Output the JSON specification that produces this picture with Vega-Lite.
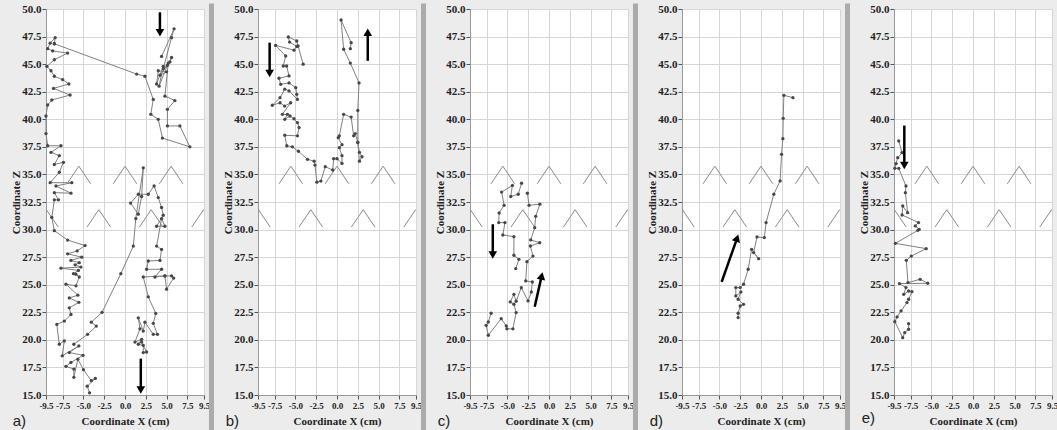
{
"$schema":"https://vega.github.io/schema/vega-lite/v6.json",
"background":"#ececec",
"padding":{"left":10,"top":0,"right":0,"bottom":0},
"spacing":54,
"bounds":"flush",
"datasets":{
"sep":[{"x":10.4,"z":50.5,"z2":11.6}],
"sepe":[{"x":0,"z":50.5,"z2":11.6}],
"chev":[
{"c":"u1","i":1,"x":-6.97,"z":34.15},{"c":"u1","i":2,"x":-5.55,"z":35.75},{"c":"u1","i":3,"x":-4.13,"z":34.15},
{"c":"u2","i":1,"x":-1.42,"z":34.15},{"c":"u2","i":2,"x":0,"z":35.75},{"c":"u2","i":3,"x":1.42,"z":34.15},
{"c":"u3","i":1,"x":4.13,"z":34.15},{"c":"u3","i":2,"x":5.55,"z":35.75},{"c":"u3","i":3,"x":6.97,"z":34.15},
{"c":"l1","i":1,"x":-10.87,"z":30.23},{"c":"l1","i":2,"x":-9.45,"z":31.8},{"c":"l1","i":3,"x":-8.03,"z":30.23},
{"c":"l2","i":1,"x":-4.57,"z":30.23},{"c":"l2","i":2,"x":-3.15,"z":31.8},{"c":"l2","i":3,"x":-1.73,"z":30.23},
{"c":"l3","i":1,"x":1.73,"z":30.23},{"c":"l3","i":2,"x":3.15,"z":31.8},{"c":"l3","i":3,"x":4.57,"z":30.23},
{"c":"l4","i":1,"x":8.03,"z":30.23},{"c":"l4","i":2,"x":9.45,"z":31.8},{"c":"l4","i":3,"x":10.87,"z":30.23}
],
"arrows":[
{"p":"a","x":4.2,"z":49.7,"x2":4.2,"z2":47.85},
{"p":"a","x":1.9,"z":18.3,"x2":1.9,"z2":15.45},
{"p":"b","x":-8.1,"z":46.95,"x2":-8.1,"z2":44.15},
{"p":"b","x":3.7,"z":45.3,"x2":3.7,"z2":47.9},
{"p":"c","x":-6.76,"z":30.48,"x2":-6.76,"z2":27.7},
{"p":"c","x":-1.72,"z":23.0,"x2":-0.88,"z2":25.8},
{"p":"d","x":-4.73,"z":25.25,"x2":-2.87,"z2":29.23},
{"p":"e","x":-8.26,"z":39.43,"x2":-8.26,"z2":35.8}
],
"heads":[
{"p":"a","dir":"down","x":4.2,"z":47.85},
{"p":"a","dir":"down","x":1.9,"z":15.45},
{"p":"b","dir":"down","x":-8.1,"z":44.15},
{"p":"b","dir":"up","x":3.7,"z":47.9},
{"p":"c","dir":"down","x":-6.76,"z":27.7},
{"p":"c","dir":"tilt","x":-0.88,"z":25.8},
{"p":"d","dir":"tilt","x":-2.87,"z":29.23},
{"p":"e","dir":"down","x":-8.26,"z":35.8}
],
"ta":[
{"s":1,"i":1,"x":4.4,"z":45.7},{"s":1,"i":2,"x":5.9,"z":48.2},{"s":1,"i":3,"x":5.6,"z":47.4},{"s":1,"i":4,"x":4.6,"z":44.6},{"s":1,"i":5,"x":5.1,"z":44.9},{"s":1,"i":6,"x":5.6,"z":45.6},{"s":1,"i":7,"x":5.4,"z":45.2},{"s":1,"i":8,"x":4.2,"z":44.0},{"s":1,"i":9,"x":5.0,"z":44.3},{"s":1,"i":10,"x":4.0,"z":44.4},{"s":1,"i":11,"x":3.8,"z":43.2},{"s":1,"i":12,"x":4.6,"z":44.8},{"s":1,"i":13,"x":4.1,"z":43.0},{"s":1,"i":14,"x":5.2,"z":45.1},{"s":1,"i":15,"x":4.8,"z":42.1},{"s":1,"i":16,"x":6.0,"z":41.7},{"s":1,"i":17,"x":5.1,"z":40.9},{"s":1,"i":18,"x":5.1,"z":39.4},{"s":1,"i":19,"x":6.6,"z":39.4},{"s":1,"i":20,"x":7.8,"z":37.5},{"s":1,"i":21,"x":4.5,"z":38.3},{"s":1,"i":22,"x":4.0,"z":40.0},{"s":1,"i":23,"x":3.1,"z":40.45},{"s":1,"i":24,"x":3.4,"z":41.8},{"s":1,"i":25,"x":2.4,"z":43.9},{"s":1,"i":26,"x":1.4,"z":44.1},{"s":1,"i":27,"x":-8.5,"z":46.85},
{"s":2,"i":1,"x":-8.5,"z":46.85},{"s":2,"i":2,"x":-8.4,"z":47.4},{"s":2,"i":3,"x":-9.0,"z":46.9},{"s":2,"i":4,"x":-9.3,"z":46.4},{"s":2,"i":5,"x":-8.7,"z":46.2},{"s":2,"i":6,"x":-6.9,"z":46.0},{"s":2,"i":7,"x":-8.5,"z":45.4},{"s":2,"i":8,"x":-9.4,"z":44.8},{"s":2,"i":9,"x":-8.9,"z":44.4},{"s":2,"i":10,"x":-8.5,"z":43.9},{"s":2,"i":11,"x":-7.5,"z":43.6},{"s":2,"i":12,"x":-6.75,"z":43.2},{"s":2,"i":13,"x":-8.6,"z":42.8},{"s":2,"i":14,"x":-6.6,"z":42.2},{"s":2,"i":15,"x":-8.8,"z":41.75},{"s":2,"i":16,"x":-9.3,"z":41.3},{"s":2,"i":17,"x":-9.5,"z":40.3},{"s":2,"i":18,"x":-9.5,"z":38.7},{"s":2,"i":19,"x":-9.3,"z":37.6},{"s":2,"i":20,"x":-7.7,"z":37.6},{"s":2,"i":21,"x":-8.9,"z":37.0},{"s":2,"i":22,"x":-7.9,"z":36.7},{"s":2,"i":23,"x":-8.5,"z":35.9},{"s":2,"i":24,"x":-7.4,"z":36.1},{"s":2,"i":25,"x":-7.9,"z":35.2},{"s":2,"i":26,"x":-9.0,"z":34.25},{"s":2,"i":27,"x":-6.4,"z":34.25},{"s":2,"i":28,"x":-8.3,"z":33.95},{"s":2,"i":29,"x":-6.5,"z":33.3},{"s":2,"i":30,"x":-8.5,"z":33.35},{"s":2,"i":31,"x":-8.0,"z":32.7},{"s":2,"i":32,"x":-8.5,"z":32.7},{"s":2,"i":33,"x":-8.8,"z":31.1},{"s":2,"i":34,"x":-8.5,"z":29.9},{"s":2,"i":35,"x":-6.9,"z":29.05},{"s":2,"i":36,"x":-4.8,"z":28.55},{"s":2,"i":37,"x":-5.75,"z":28.06},{"s":2,"i":38,"x":-6.9,"z":27.8},{"s":2,"i":39,"x":-5.2,"z":27.5},{"s":2,"i":40,"x":-6.5,"z":27.2},{"s":2,"i":41,"x":-5.5,"z":27.0},{"s":2,"i":42,"x":-6.0,"z":26.8},{"s":2,"i":43,"x":-5.3,"z":26.6},{"s":2,"i":44,"x":-7.7,"z":26.5},{"s":2,"i":45,"x":-5.6,"z":26.3},{"s":2,"i":46,"x":-6.2,"z":26.0},{"s":2,"i":47,"x":-5.9,"z":25.95},{"s":2,"i":48,"x":-5.5,"z":25.7},{"s":2,"i":49,"x":-5.9,"z":24.9},{"s":2,"i":50,"x":-7.1,"z":25.05},{"s":2,"i":51,"x":-5.67,"z":24.05},{"s":2,"i":52,"x":-6.7,"z":23.8},{"s":2,"i":53,"x":-5.55,"z":23.4},{"s":2,"i":54,"x":-6.7,"z":22.9},{"s":2,"i":55,"x":-6.5,"z":22.3},{"s":2,"i":56,"x":-7.3,"z":21.7},{"s":2,"i":57,"x":-8.2,"z":21.4},{"s":2,"i":58,"x":-7.9,"z":19.6},{"s":2,"i":59,"x":-7.3,"z":19.9},{"s":2,"i":60,"x":-7.55,"z":18.55},{"s":2,"i":61,"x":-5.55,"z":19.45},{"s":2,"i":62,"x":-6.7,"z":18.85},{"s":2,"i":63,"x":-5.05,"z":18.6},{"s":2,"i":64,"x":-6.5,"z":17.95},{"s":2,"i":65,"x":-7.1,"z":17.6},{"s":2,"i":66,"x":-6.15,"z":17.35},{"s":2,"i":67,"x":-6.15,"z":16.6},{"s":2,"i":68,"x":-5.67,"z":18.25},{"s":2,"i":69,"x":-5.0,"z":17.3},{"s":2,"i":70,"x":-4.05,"z":16.3},{"s":2,"i":71,"x":-3.57,"z":16.5},{"s":2,"i":72,"x":-4.54,"z":15.8},{"s":2,"i":73,"x":-4.26,"z":15.2},
{"s":3,"i":1,"x":-6.15,"z":19.6},{"s":3,"i":2,"x":-4.5,"z":20.5},{"s":3,"i":3,"x":-3.45,"z":21.25},{"s":3,"i":4,"x":-4.05,"z":21.6},{"s":3,"i":5,"x":-2.76,"z":22.5},{"s":3,"i":6,"x":-0.5,"z":26.0},{"s":3,"i":7,"x":1.0,"z":28.5},{"s":3,"i":8,"x":1.3,"z":31.0},{"s":3,"i":9,"x":2.2,"z":35.6},{"s":3,"i":10,"x":2.0,"z":33.0},{"s":3,"i":11,"x":1.6,"z":31.4},{"s":3,"i":12,"x":0.67,"z":32.4},{"s":3,"i":13,"x":1.6,"z":33.2},{"s":3,"i":14,"x":2.8,"z":33.2},{"s":3,"i":15,"x":3.5,"z":33.95},{"s":3,"i":16,"x":4.0,"z":32.9},{"s":3,"i":17,"x":4.4,"z":32.0},{"s":3,"i":18,"x":4.6,"z":31.3},{"s":3,"i":19,"x":3.8,"z":30.3},{"s":3,"i":20,"x":4.8,"z":30.3},{"s":3,"i":21,"x":4.4,"z":31.0},{"s":3,"i":22,"x":3.8,"z":28.5},{"s":3,"i":23,"x":4.4,"z":28.2},{"s":3,"i":24,"x":4.2,"z":27.2},{"s":3,"i":25,"x":2.8,"z":27.15},{"s":3,"i":26,"x":2.6,"z":26.4},{"s":3,"i":27,"x":4.4,"z":26.4},{"s":3,"i":28,"x":3.6,"z":25.7},{"s":3,"i":29,"x":4.8,"z":25.8},{"s":3,"i":30,"x":5.6,"z":25.8},{"s":3,"i":31,"x":5.85,"z":25.6},{"s":3,"i":32,"x":5.0,"z":24.6},{"s":3,"i":33,"x":4.8,"z":25.8},{"s":3,"i":34,"x":2.2,"z":25.7},{"s":3,"i":35,"x":2.8,"z":23.9},{"s":3,"i":36,"x":3.7,"z":22.4},{"s":3,"i":37,"x":3.4,"z":21.5},{"s":3,"i":38,"x":3.9,"z":20.5},{"s":3,"i":39,"x":3.4,"z":20.5},{"s":3,"i":40,"x":2.4,"z":21.6},{"s":3,"i":41,"x":2.2,"z":20.8},{"s":3,"i":42,"x":1.6,"z":22.0},{"s":3,"i":43,"x":1.8,"z":21.0},{"s":3,"i":44,"x":1.2,"z":19.8},{"s":3,"i":45,"x":2.0,"z":20.05},{"s":3,"i":46,"x":1.6,"z":19.6},{"s":3,"i":47,"x":2.2,"z":19.5},{"s":3,"i":48,"x":2.2,"z":18.85},{"s":3,"i":49,"x":2.6,"z":18.9},{"s":3,"i":50,"x":2.0,"z":19.8}
],
"tb":[
{"s":1,"i":1,"x":-4.07,"z":45.0},{"s":1,"i":2,"x":-4.68,"z":46.65},{"s":1,"i":3,"x":-4.84,"z":47.1},{"s":1,"i":4,"x":-5.85,"z":47.46},{"s":1,"i":5,"x":-5.7,"z":47.0},{"s":1,"i":6,"x":-4.84,"z":46.6},{"s":1,"i":7,"x":-5.17,"z":46.27},{"s":1,"i":8,"x":-7.38,"z":46.7},{"s":1,"i":9,"x":-6.17,"z":45.74},{"s":1,"i":10,"x":-6.46,"z":44.83},{"s":1,"i":11,"x":-6.06,"z":44.83},{"s":1,"i":12,"x":-5.77,"z":43.93},{"s":1,"i":13,"x":-6.98,"z":43.72},{"s":1,"i":14,"x":-6.77,"z":43.17},{"s":1,"i":15,"x":-5.77,"z":43.3},{"s":1,"i":16,"x":-4.96,"z":42.87},{"s":1,"i":17,"x":-4.84,"z":42.26},{"s":1,"i":18,"x":-4.76,"z":41.8},{"s":1,"i":19,"x":-5.77,"z":42.57},{"s":1,"i":20,"x":-6.28,"z":42.73},{"s":1,"i":21,"x":-6.85,"z":41.96},{"s":1,"i":22,"x":-7.78,"z":41.27},{"s":1,"i":23,"x":-6.85,"z":41.5},{"s":1,"i":24,"x":-6.3,"z":41.2},{"s":1,"i":25,"x":-5.57,"z":41.5},{"s":1,"i":26,"x":-6.57,"z":40.45},{"s":1,"i":27,"x":-5.96,"z":40.45},{"s":1,"i":28,"x":-6.28,"z":40.0},{"s":1,"i":29,"x":-5.65,"z":40.3},{"s":1,"i":30,"x":-5.17,"z":40.05},{"s":1,"i":31,"x":-4.76,"z":39.7},{"s":1,"i":32,"x":-4.56,"z":39.25},{"s":1,"i":33,"x":-4.76,"z":38.5},{"s":1,"i":34,"x":-6.28,"z":38.55},{"s":1,"i":35,"x":-6.04,"z":37.6},{"s":1,"i":36,"x":-5.37,"z":37.5},{"s":1,"i":37,"x":-4.64,"z":37.1},{"s":1,"i":38,"x":-3.55,"z":36.37},{"s":1,"i":39,"x":-2.75,"z":36.2},{"s":1,"i":40,"x":-2.65,"z":35.85},{"s":1,"i":41,"x":-2.42,"z":34.3},{"s":1,"i":42,"x":-1.94,"z":34.4},{"s":1,"i":43,"x":-1.41,"z":35.7},{"s":1,"i":44,"x":-0.52,"z":35.4},{"s":1,"i":45,"x":-0.4,"z":36.43},{"s":1,"i":46,"x":0.0,"z":36.43},{"s":1,"i":47,"x":0.6,"z":36.0},{"s":1,"i":48,"x":0.6,"z":36.7},{"s":1,"i":49,"x":0.28,"z":37.43},{"s":1,"i":50,"x":0.6,"z":37.7},{"s":1,"i":51,"x":0.15,"z":38.33},{"s":1,"i":52,"x":0.28,"z":38.5},{"s":1,"i":53,"x":0.8,"z":40.45},{"s":1,"i":54,"x":1.7,"z":40.2},{"s":1,"i":55,"x":2.0,"z":38.5},{"s":1,"i":56,"x":2.2,"z":38.7},{"s":1,"i":57,"x":2.5,"z":37.9},{"s":1,"i":58,"x":2.7,"z":37.0},{"s":1,"i":59,"x":3.0,"z":36.6},{"s":1,"i":60,"x":2.7,"z":36.2},{"s":1,"i":61,"x":2.5,"z":37.9},{"s":1,"i":62,"x":2.5,"z":40.8},{"s":1,"i":63,"x":2.65,"z":43.3},{"s":1,"i":64,"x":1.6,"z":45.1},{"s":1,"i":65,"x":0.8,"z":46.35},{"s":1,"i":66,"x":0.49,"z":49.0},{"s":1,"i":67,"x":1.7,"z":46.95},{"s":1,"i":68,"x":1.6,"z":46.4}
],
"tc":[
{"s":1,"i":1,"x":-3.3,"z":34.2},{"s":1,"i":2,"x":-3.7,"z":33.2},{"s":1,"i":3,"x":-4.6,"z":33.0},{"s":1,"i":4,"x":-4.4,"z":34.0},{"s":1,"i":5,"x":-5.7,"z":33.4},{"s":1,"i":6,"x":-5.4,"z":32.2},{"s":1,"i":7,"x":-6.0,"z":31.5},{"s":1,"i":8,"x":-6.04,"z":30.63},{"s":1,"i":9,"x":-5.3,"z":30.63},{"s":1,"i":10,"x":-5.55,"z":29.51},{"s":1,"i":11,"x":-4.22,"z":29.36},{"s":1,"i":12,"x":-4.22,"z":27.67},{"s":1,"i":13,"x":-3.62,"z":27.3},{"s":1,"i":14,"x":-4.0,"z":26.46},
{"s":2,"i":1,"x":-6.96,"z":22.41},{"s":2,"i":2,"x":-7.3,"z":21.62},{"s":2,"i":3,"x":-7.56,"z":21.32},{"s":2,"i":4,"x":-7.3,"z":20.42},{"s":2,"i":5,"x":-5.75,"z":21.92},{"s":2,"i":6,"x":-5.14,"z":21.26},{"s":2,"i":7,"x":-5.06,"z":21.0},{"s":2,"i":8,"x":-4.34,"z":21.0},{"s":2,"i":9,"x":-3.95,"z":22.47},{"s":2,"i":10,"x":-4.22,"z":23.23},{"s":2,"i":11,"x":-4.66,"z":23.44},{"s":2,"i":12,"x":-4.22,"z":24.13},{"s":2,"i":13,"x":-3.95,"z":23.5},{"s":2,"i":14,"x":-3.33,"z":24.73},{"s":2,"i":15,"x":-2.52,"z":23.53},{"s":2,"i":16,"x":-2.12,"z":24.34},{"s":2,"i":17,"x":-2.0,"z":25.25},{"s":2,"i":18,"x":-2.8,"z":25.34},{"s":2,"i":19,"x":-2.65,"z":27.09},{"s":2,"i":20,"x":-1.93,"z":27.6},{"s":2,"i":21,"x":-2.24,"z":28.51},{"s":2,"i":22,"x":-1.11,"z":28.81},{"s":2,"i":23,"x":-2.2,"z":29.06},{"s":2,"i":24,"x":-1.72,"z":30.17},{"s":2,"i":25,"x":-1.6,"z":31.2},{"s":2,"i":26,"x":-1.1,"z":32.3},{"s":2,"i":27,"x":-2.4,"z":32.2},{"s":2,"i":28,"x":-2.6,"z":33.3}
],
"td":[
{"s":1,"i":1,"x":3.84,"z":41.96},{"s":1,"i":2,"x":2.75,"z":42.17},{"s":1,"i":3,"x":2.67,"z":40.09},{"s":1,"i":4,"x":2.63,"z":38.24},{"s":1,"i":5,"x":2.47,"z":36.82},{"s":1,"i":6,"x":2.3,"z":34.41},{"s":1,"i":7,"x":1.54,"z":33.2},{"s":1,"i":8,"x":0.61,"z":30.63},{"s":1,"i":9,"x":0.4,"z":29.27},{"s":1,"i":10,"x":-0.48,"z":29.33},{"s":1,"i":11,"x":-0.89,"z":27.91},{"s":1,"i":12,"x":-0.28,"z":27.36},{"s":1,"i":13,"x":-1.13,"z":28.21},{"s":1,"i":14,"x":-1.54,"z":26.4},{"s":1,"i":15,"x":-2.1,"z":25.04},{"s":1,"i":16,"x":-2.5,"z":24.74},{"s":1,"i":17,"x":-3.03,"z":24.74},{"s":1,"i":18,"x":-3.03,"z":23.98},{"s":1,"i":19,"x":-2.42,"z":24.34},{"s":1,"i":20,"x":-2.75,"z":23.68},{"s":1,"i":21,"x":-2.1,"z":23.22},{"s":1,"i":22,"x":-2.5,"z":23.07},{"s":1,"i":23,"x":-2.75,"z":22.41},{"s":1,"i":24,"x":-2.75,"z":22.02}
],
"te":[
{"s":1,"i":1,"x":-8.93,"z":38.03},{"s":1,"i":2,"x":-8.53,"z":36.97},{"s":1,"i":3,"x":-9.05,"z":36.52},{"s":1,"i":4,"x":-9.25,"z":35.98},{"s":1,"i":5,"x":-9.4,"z":35.55},{"s":1,"i":6,"x":-8.93,"z":35.55},{"s":1,"i":7,"x":-8.06,"z":33.95},{"s":1,"i":8,"x":-8.13,"z":33.35},{"s":1,"i":9,"x":-7.86,"z":31.53},{"s":1,"i":10,"x":-8.45,"z":32.14},{"s":1,"i":11,"x":-8.53,"z":31.32},{"s":1,"i":12,"x":-6.55,"z":30.63},{"s":1,"i":13,"x":-6.94,"z":30.33},{"s":1,"i":14,"x":-6.47,"z":30.02},{"s":1,"i":15,"x":-6.63,"z":29.93},{"s":1,"i":16,"x":-9.33,"z":28.75},{"s":1,"i":17,"x":-5.63,"z":28.27},{"s":1,"i":18,"x":-7.42,"z":27.6},{"s":1,"i":19,"x":-8.02,"z":27.21},{"s":1,"i":20,"x":-7.82,"z":25.19},{"s":1,"i":21,"x":-6.35,"z":25.49},{"s":1,"i":22,"x":-5.44,"z":25.13},{"s":1,"i":23,"x":-8.85,"z":25.1},{"s":1,"i":24,"x":-8.06,"z":24.74},{"s":1,"i":25,"x":-8.33,"z":24.13},{"s":1,"i":26,"x":-7.74,"z":24.43},{"s":1,"i":27,"x":-7.34,"z":24.37},{"s":1,"i":28,"x":-7.74,"z":23.68},{"s":1,"i":29,"x":-7.94,"z":23.38},{"s":1,"i":30,"x":-8.65,"z":22.62},{"s":1,"i":31,"x":-9.13,"z":22.08},{"s":1,"i":32,"x":-9.4,"z":21.65},{"s":1,"i":33,"x":-8.45,"z":20.2},{"s":1,"i":34,"x":-8.21,"z":20.66},{"s":1,"i":35,"x":-7.74,"z":20.96},{"s":1,"i":36,"x":-7.74,"z":21.47}
]
},
"hconcat":[
{"width":158,"height":386,
 "title":{"text":"a)","orient":"bottom","anchor":"start","offset":-21,"dx":2},
 "encoding":{"x":{"field":"x","type":"quantitative","scale":{"domain":[-9.5,9.5],"nice":false,"zero":false},"axis":{"title":"Coordinate X (cm)","values":[-9.5,-7.5,-5,-2.5,0,2.5,5,7.5,9.5],"labelExpr":"(datum.value < 0 ? '-' : '') + format(abs(datum.value), '.1f')"}},
   "y":{"field":"z","type":"quantitative","scale":{"domain":[15,50],"nice":false,"zero":false},"axis":{"title":"Coordinate Z","values":[15,17.5,20,22.5,25,27.5,30,32.5,35,37.5,40,42.5,45,47.5,50],"format":".1f"}}},
 "layer":[
  {"data":{"name":"sep"},"mark":{"type":"rule","color":"#ababab","strokeWidth":5,"clip":false},"encoding":{"y2":{"field":"z2"}}},
  {"data":{"name":"chev"},"mark":{"type":"line","color":"#8a8a8a","strokeWidth":1,"clip":true},"encoding":{"detail":{"field":"c"},"order":{"field":"i"}}},
  {"data":{"name":"ta"},"mark":{"type":"line","color":"#808080","strokeWidth":1},"encoding":{"detail":{"field":"s"},"order":{"field":"i"}}},
  {"data":{"name":"ta"},"mark":{"type":"circle","color":"#474747","size":11,"opacity":1}},
  {"data":{"name":"arrows"},"transform":[{"filter":"datum.p === 'a'"}],"mark":{"type":"rule","color":"black","strokeWidth":2.5},"encoding":{"x2":{"field":"x2"},"y2":{"field":"z2"}}},
  {"data":{"name":"heads"},"transform":[{"filter":"datum.p === 'a'"}],"mark":{"type":"point","shape":"triangle-down","filled":true,"color":"black","size":75,"opacity":1}}
 ]},
{"width":158,"height":386,
 "title":{"text":"b)","orient":"bottom","anchor":"start","offset":-21,"dx":3},
 "encoding":{"x":{"field":"x","type":"quantitative","scale":{"domain":[-9.5,9.5],"nice":false,"zero":false},"axis":{"title":"Coordinate X (cm)","values":[-9.5,-7.5,-5,-2.5,0,2.5,5,7.5,9.5],"labelExpr":"(datum.value < 0 ? '-' : '') + format(abs(datum.value), '.1f')"}},
   "y":{"field":"z","type":"quantitative","scale":{"domain":[15,50],"nice":false,"zero":false},"axis":{"title":"Coordinate Z","values":[15,17.5,20,22.5,25,27.5,30,32.5,35,37.5,40,42.5,45,47.5,50],"format":".1f"}}},
 "layer":[
  {"data":{"name":"sep"},"mark":{"type":"rule","color":"#ababab","strokeWidth":5,"clip":false},"encoding":{"y2":{"field":"z2"}}},
  {"data":{"name":"chev"},"mark":{"type":"line","color":"#8a8a8a","strokeWidth":1,"clip":true},"encoding":{"detail":{"field":"c"},"order":{"field":"i"}}},
  {"data":{"name":"tb"},"mark":{"type":"line","color":"#808080","strokeWidth":1},"encoding":{"detail":{"field":"s"},"order":{"field":"i"}}},
  {"data":{"name":"tb"},"mark":{"type":"circle","color":"#474747","size":11,"opacity":1}},
  {"data":{"name":"arrows"},"transform":[{"filter":"datum.p === 'b'"}],"mark":{"type":"rule","color":"black","strokeWidth":2.5},"encoding":{"x2":{"field":"x2"},"y2":{"field":"z2"}}},
  {"data":{"name":"heads"},"transform":[{"filter":"datum.p === 'b'"}],"mark":{"type":"point","filled":true,"color":"black","size":75,"opacity":1},
   "encoding":{"shape":{"field":"dir","type":"nominal","scale":{"domain":["down","up"],"range":["triangle-down","triangle-up"]},"legend":null}}}
 ]},
{"width":158,"height":386,
 "title":{"text":"c)","orient":"bottom","anchor":"start","offset":-21,"dx":3},
 "encoding":{"x":{"field":"x","type":"quantitative","scale":{"domain":[-9.5,9.5],"nice":false,"zero":false},"axis":{"title":"Coordinate X (cm)","values":[-9.5,-7.5,-5,-2.5,0,2.5,5,7.5,9.5],"labelExpr":"(datum.value < 0 ? '-' : '') + format(abs(datum.value), '.1f')"}},
   "y":{"field":"z","type":"quantitative","scale":{"domain":[15,50],"nice":false,"zero":false},"axis":{"title":"Coordinate Z","values":[15,17.5,20,22.5,25,27.5,30,32.5,35,37.5,40,42.5,45,47.5,50],"format":".1f"}}},
 "layer":[
  {"data":{"name":"sep"},"mark":{"type":"rule","color":"#ababab","strokeWidth":5,"clip":false},"encoding":{"y2":{"field":"z2"}}},
  {"data":{"name":"chev"},"mark":{"type":"line","color":"#8a8a8a","strokeWidth":1,"clip":true},"encoding":{"detail":{"field":"c"},"order":{"field":"i"}}},
  {"data":{"name":"tc"},"mark":{"type":"line","color":"#808080","strokeWidth":1},"encoding":{"detail":{"field":"s"},"order":{"field":"i"}}},
  {"data":{"name":"tc"},"mark":{"type":"circle","color":"#474747","size":11,"opacity":1}},
  {"data":{"name":"arrows"},"transform":[{"filter":"datum.p === 'c'"}],"mark":{"type":"rule","color":"black","strokeWidth":2.5},"encoding":{"x2":{"field":"x2"},"y2":{"field":"z2"}}},
  {"data":{"name":"heads"},"transform":[{"filter":"datum.p === 'c' && datum.dir === 'down'"}],"mark":{"type":"point","shape":"triangle-down","filled":true,"color":"black","size":75,"opacity":1}},
  {"data":{"name":"heads"},"transform":[{"filter":"datum.p === 'c' && datum.dir === 'tilt'"}],"mark":{"type":"point","shape":"triangle-up","angle":12,"filled":true,"color":"black","size":75,"opacity":1}}
 ]},
{"width":158,"height":386,
 "title":{"text":"d)","orient":"bottom","anchor":"start","offset":-21,"dx":3},
 "encoding":{"x":{"field":"x","type":"quantitative","scale":{"domain":[-9.5,9.5],"nice":false,"zero":false},"axis":{"title":"Coordinate X (cm)","values":[-9.5,-7.5,-5,-2.5,0,2.5,5,7.5,9.5],"labelExpr":"(datum.value < 0 ? '-' : '') + format(abs(datum.value), '.1f')"}},
   "y":{"field":"z","type":"quantitative","scale":{"domain":[15,50],"nice":false,"zero":false},"axis":{"title":"Coordinate Z","values":[15,17.5,20,22.5,25,27.5,30,32.5,35,37.5,40,42.5,45,47.5,50],"format":".1f"}}},
 "layer":[
  {"data":{"name":"sep"},"mark":{"type":"rule","color":"#ababab","strokeWidth":5,"clip":false},"encoding":{"y2":{"field":"z2"}}},
  {"data":{"name":"chev"},"mark":{"type":"line","color":"#8a8a8a","strokeWidth":1,"clip":true},"encoding":{"detail":{"field":"c"},"order":{"field":"i"}}},
  {"data":{"name":"td"},"mark":{"type":"line","color":"#808080","strokeWidth":1},"encoding":{"detail":{"field":"s"},"order":{"field":"i"}}},
  {"data":{"name":"td"},"mark":{"type":"circle","color":"#474747","size":11,"opacity":1}},
  {"data":{"name":"arrows"},"transform":[{"filter":"datum.p === 'd'"}],"mark":{"type":"rule","color":"black","strokeWidth":2.5},"encoding":{"x2":{"field":"x2"},"y2":{"field":"z2"}}},
  {"data":{"name":"heads"},"transform":[{"filter":"datum.p === 'd'"}],"mark":{"type":"point","shape":"triangle-up","angle":19,"filled":true,"color":"black","size":75,"opacity":1}}
 ]},
{"width":158,"height":386,
 "title":{"text":"e)","orient":"bottom","anchor":"start","offset":-21,"dx":3},
 "encoding":{"x":{"field":"x","type":"quantitative","scale":{"domain":[-9.5,9.5],"nice":false,"zero":false},"axis":{"title":"Coordinate X (cm)","values":[-9.5,-7.5,-5,-2.5,0,2.5,5,7.5,9.5],"labelExpr":"(datum.value < 0 ? '-' : '') + format(abs(datum.value), '.1f')"}},
   "y":{"field":"z","type":"quantitative","scale":{"domain":[15,50],"nice":false,"zero":false},"axis":{"title":"Coordinate Z","values":[15,17.5,20,22.5,25,27.5,30,32.5,35,37.5,40,42.5,45,47.5,50],"format":".1f"}}},
 "layer":[
  {"data":{"name":"sepe"},"mark":{"type":"rule","color":"#ababab","strokeWidth":5,"opacity":0,"clip":false},"encoding":{"y2":{"field":"z2"}}},
  {"data":{"name":"chev"},"mark":{"type":"line","color":"#8a8a8a","strokeWidth":1,"clip":true},"encoding":{"detail":{"field":"c"},"order":{"field":"i"}}},
  {"data":{"name":"te"},"mark":{"type":"line","color":"#808080","strokeWidth":1},"encoding":{"detail":{"field":"s"},"order":{"field":"i"}}},
  {"data":{"name":"te"},"mark":{"type":"circle","color":"#474747","size":11,"opacity":1}},
  {"data":{"name":"arrows"},"transform":[{"filter":"datum.p === 'e'"}],"mark":{"type":"rule","color":"black","strokeWidth":2.5},"encoding":{"x2":{"field":"x2"},"y2":{"field":"z2"}}},
  {"data":{"name":"heads"},"transform":[{"filter":"datum.p === 'e'"}],"mark":{"type":"point","shape":"triangle-down","filled":true,"color":"black","size":75,"opacity":1}}
 ]}
],
"config":{
 "view":{"fill":"white","stroke":null},
 "title":{"font":"Liberation Sans","fontSize":15,"fontWeight":"normal","color":"#222222","baseline":"top"},
 "axis":{"labelFont":"Liberation Serif","labelFontWeight":"bold","labelColor":"#222222","titleFont":"Liberation Serif","titleFontWeight":"bold","titleFontSize":11,"titleColor":"#222222","gridColor":"#d6d6d6","gridWidth":1,"domainColor":"#9a9a9a","tickColor":"#555555","tickSize":4,"labelOverlap":false,"labelFlush":false},
 "axisX":{"labelFontSize":9,"labelPadding":2,"titlePadding":5},
 "axisY":{"labelFontSize":11,"labelPadding":1,"titlePadding":0}
}
}
